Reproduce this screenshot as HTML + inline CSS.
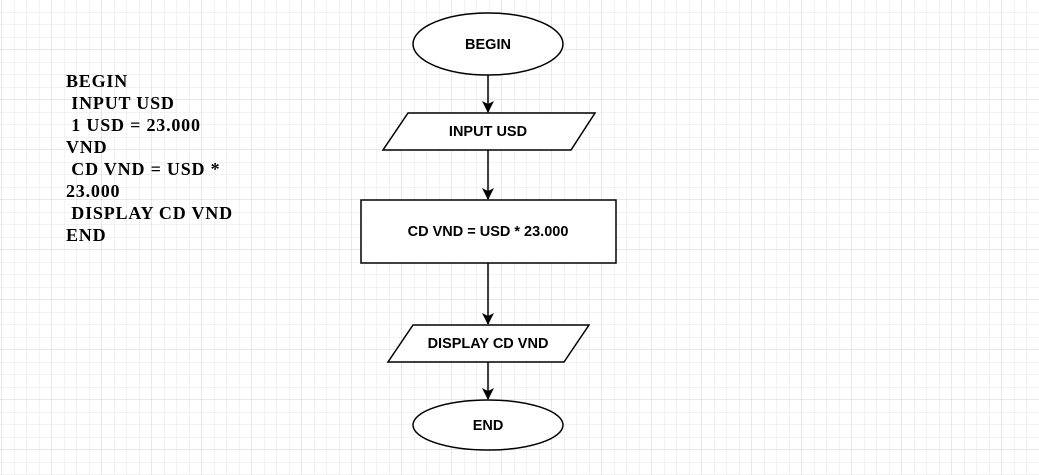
<!DOCTYPE html>
<html><head><style>
html,body{margin:0;padding:0;width:1039px;height:475px;overflow:hidden;background:#fff;}
.txt{position:absolute;left:66px;top:70px;font-family:"Liberation Serif",serif;font-weight:bold;font-size:18px;letter-spacing:0.8px;line-height:22px;color:#000;white-space:pre;}
</style></head><body>
<svg width="1039" height="475" style="position:absolute;left:0;top:0">
<defs>
<pattern id="mn" x="2" y="0" width="12.5" height="12.5" patternUnits="userSpaceOnUse"><path d="M12.5 0V12.5M0 12.5H12.5" fill="none" stroke="#e6e6e6" stroke-width="1"/></pattern>
<pattern id="mj" x="2" y="0" width="50" height="50" patternUnits="userSpaceOnUse"><path d="M50 0V50M0 50H50" fill="none" stroke="#d0d0d0" stroke-width="1"/></pattern>
<marker id="a" markerWidth="12" markerHeight="12" refX="11" refY="6" orient="auto" markerUnits="userSpaceOnUse"><path d="M0 0L12 6L0 12L3 6Z" fill="#000"/></marker>
</defs>
<rect width="1039" height="475" fill="url(#mn)"/>
<rect width="1039" height="475" fill="url(#mj)"/>
<g stroke="#000" stroke-width="1.5" fill="#fff">
<ellipse cx="488" cy="44" rx="75" ry="31"/>
<polygon points="408,113 595,113 571,150 383,150"/>
<rect x="361" y="200" width="255" height="63"/>
<polygon points="413,325 589,325 564,362 388,362"/>
<ellipse cx="488" cy="425" rx="75" ry="25"/>
<line x1="488" y1="75" x2="488" y2="112" marker-end="url(#a)"/>
<line x1="488" y1="150" x2="488" y2="199" marker-end="url(#a)"/>
<line x1="488" y1="263" x2="488" y2="324" marker-end="url(#a)"/>
<line x1="488" y1="362" x2="488" y2="399" marker-end="url(#a)"/>
</g>
<g font-family="Liberation Sans,sans-serif" font-size="14.5" font-weight="bold" text-anchor="middle" fill="#000">
<text x="488" y="49">BEGIN</text>
<text x="488" y="136">INPUT USD</text>
<text x="488" y="236">CD VND = USD * 23.000</text>
<text x="488" y="348">DISPLAY CD VND</text>
<text x="488" y="430">END</text>
</g>
</svg>
<div class="txt">BEGIN
 INPUT USD
 1 USD = 23.000
VND
 CD VND = USD *
23.000
 DISPLAY CD VND
END</div>
</body></html>
